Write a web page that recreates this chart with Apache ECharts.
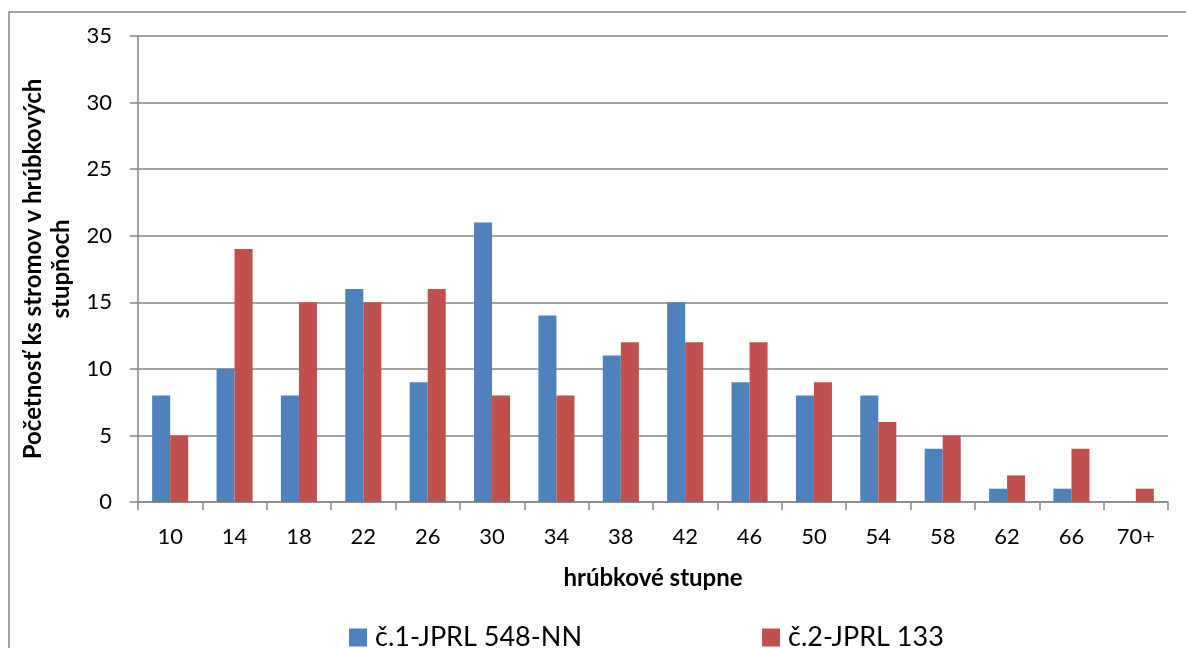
<!DOCTYPE html>
<html><head><meta charset="utf-8">
<script src="https://cdn.jsdelivr.net/npm/echarts@6/dist/echarts.min.js"></script>
<style>html,body{margin:0;padding:0;background:#fff}#c{width:1186px;height:648px}</style>
</head><body><div id="c"></div>
<script>
var categories = ['10','14','18','22','26','30','34','38','42','46','50','54','58','62','66','70+'];
var series1Name = 'č.1-JPRL 548-NN';
var series2Name = 'č.2-JPRL 133';
var series1 = [8,10,8,16,9,21,14,11,15,9,8,8,4,1,1,null];
var series2 = [5,19,15,15,16,8,8,12,12,12,9,6,5,2,4,1];
var yTicks = {min:0, max:35, interval:5};
var xTitle = 'hrúbkové stupne';
var yTitle = 'Početnosť ks stromov v hrúbkových\nstupňoch';

var font = 'Lato, "Noto Sans", sans-serif';
var gray = '#868686';
var chart = echarts.init(document.getElementById('c'), null, {renderer:'canvas'});
chart.setOption({
  animation:false,
  textStyle:{fontFamily:font},
  graphic:[{type:'rect', shape:{x:9,y:12,width:1300,height:800}, style:{fill:'none', stroke:gray, lineWidth:1.5}, silent:true, z:-1}],
  grid:{left:138, right:18, top:36, bottom:146, containLabel:false},
  legend:{
    data:[series1Name, series2Name], top:624, left:349, itemGap:180, padding:0,
    itemWidth:18, itemHeight:18, icon:'rect',
    textStyle:{fontFamily:font, fontSize:27, color:'#000', padding:[0,0,0,3]}
  },
  xAxis:{
    type:'category', data:categories,
    name:xTitle, nameLocation:'middle', nameGap:64,
    nameTextStyle:{fontFamily:font, fontSize:24, fontWeight:'bold', color:'#000'},
    axisLine:{lineStyle:{color:gray, width:1.5}},
    axisTick:{show:true, length:8, lineStyle:{color:gray, width:1.5}, alignWithLabel:false},
    axisLabel:{fontFamily:font, fontSize:22, color:'#000', margin:24}
  },
  yAxis:{
    type:'value', min:yTicks.min, max:yTicks.max, interval:yTicks.interval,
    name:yTitle, nameLocation:'middle', nameGap:63, nameRotate:90,
    nameTextStyle:{fontFamily:font, fontSize:24, fontWeight:'bold', color:'#000', lineHeight:28, align:'center'},
    axisLine:{show:true, lineStyle:{color:gray, width:1.5}},
    axisTick:{show:true, length:8, lineStyle:{color:gray, width:1.5}},
    splitLine:{lineStyle:{color:gray, width:1.5}},
    axisLabel:{fontFamily:font, fontSize:22, color:'#000', margin:26}
  },
  series:[
    {name:series1Name, type:'bar', data:series1, barGap:'0%', barCategoryGap:'44%', itemStyle:{color:'#4F81BD'}},
    {name:series2Name, type:'bar', data:series2, barGap:'0%', barCategoryGap:'44%', itemStyle:{color:'#C0504D'}}
  ]
});
</script></body></html>
